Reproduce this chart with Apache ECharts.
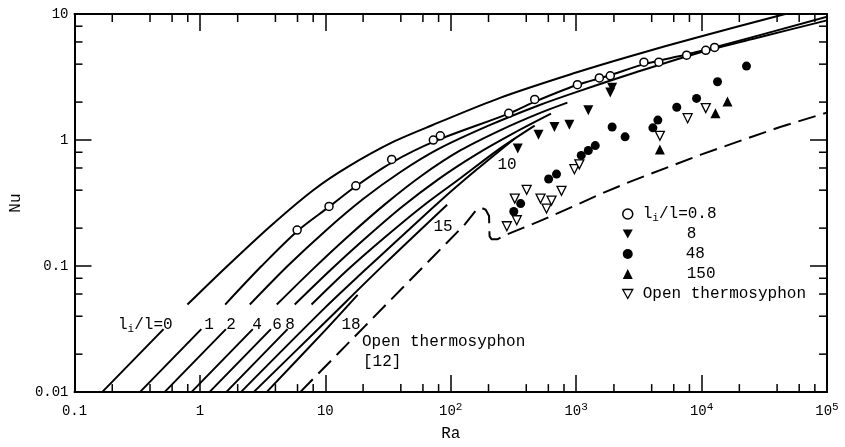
<!DOCTYPE html>
<html>
<head>
<meta charset="utf-8">
<script src="https://cdn.jsdelivr.net/npm/echarts@6/dist/echarts.min.js"></script>
<style>
  html, body { margin: 0; padding: 0; background: #fff; }
  #chart { width: 845px; height: 447px; }
</style>
</head>
<body>
<div id="chart"></div>
<script>
// ---- Axis ranges and tick labels ----
const raRange = [0.1, 1e5];
const nuRange = [0.01, 10];
const raTickLabels = ['0.1', '1', '10', '10{sup|2}', '10{sup|3}', '10{sup|4}', '10{sup|5}'];
const nuTickLabels = ['0.01', '0.1', '1', '10'];
const minorMultipliers = [2, 4, 6, 8];

// ---- Theoretical curves [Ra, Nu] for each l_i/l; null leaves the break where the label sits ----
const curve0 = [[0.166, 0.01], [0.513, 0.0316], null, [0.795, 0.0495], [1.6, 0.097], [3.7, 0.21], [8, 0.40],
  [15, 0.61], [35, 0.97], [71, 1.31], [250, 2.17], [1000, 3.43], [2700, 4.62], [10000, 6.67], [46500, 10]];
const curve1 = [[0.332, 0.01], [1.026, 0.0316], null, [1.59, 0.0495], [3.1, 0.1], [6, 0.19], [10.7, 0.295],
  [17.5, 0.43], [33.6, 0.66], [75, 0.98], [290, 1.62], [460, 2.0], [1000, 2.72], [1830, 3.25], [3500, 4.0],
  [7400, 4.75], [12400, 5.4], [100000, 9.5]];
const curve2 = [[0.522, 0.01], [1.613, 0.0316], null, [2.5, 0.0495], [5, 0.1], [10, 0.19], [20, 0.34],
  [40, 0.56], [80, 0.85], [200, 1.3], [500, 1.88], [1000, 2.4], [3000, 3.45], [10000, 5.0], [30000, 6.6],
  [100000, 8.9]];
const curve4 = [[0.855, 0.01], [2.64, 0.0316], null, [4.1, 0.0495], [8, 0.095], [15, 0.17], [30, 0.31],
  [60, 0.53], [120, 0.83], [250, 1.2], [500, 1.62], [851, 1.98]];
const curve6 = [[1.19, 0.01], [3.68, 0.0316], null, [5.7, 0.0495], [11, 0.093], [20, 0.16], [40, 0.29],
  [80, 0.49], [160, 0.77], [320, 1.14], [630, 1.62]];
const curve8 = [[1.62, 0.01], [5.0, 0.0316], null, [7.76, 0.0495], [15, 0.093], [30, 0.17], [60, 0.30],
  [120, 0.50], [240, 0.84], [467, 1.30]];
const curve10 = [[2.12, 0.01], [10, 0.047], [20, 0.09], [40, 0.17], [80, 0.32], [160, 0.58], [324, 1.03]];
const curve15 = [[2.68, 0.01], [10, 0.036], [30, 0.105], [93.6, 0.307]];
const curve18 = [[3.40, 0.01], [10, 0.031], [18.1, 0.059]];
// Open thermosyphon, ref. [12]
const openThermosyphon12 = [[6.3, 0.01], [130, 0.215], [158, 0.275], [175, 0.29], [190, 0.28], [202, 0.25],
  [203, 0.2], [204, 0.172], [212, 0.163], [235, 0.163], [280, 0.178], [500, 0.225], [968, 0.3],
  [1585, 0.375], [2735, 0.47], [10000, 0.77], [42300, 1.27], [100000, 1.65]];

// ---- Measurements [Ra, Nu] ----
const pointsLi08 = [[5.96, 0.193], [10.7, 0.297], [17.5, 0.433], [33.8, 0.702], [72.6, 1.0], [82.5, 1.08],
  [290, 1.63], [467, 2.10], [1023, 2.75], [1530, 3.11], [1870, 3.23], [3470, 4.15], [4560, 4.15],
  [7600, 4.71], [10800, 5.15], [12700, 5.43]];
const pointsLi8 = [[342, 0.855], [501, 1.10], [671, 1.27], [883, 1.32], [1250, 1.72], [1870, 2.38], [1935, 2.60]];
const pointsLi48 = [[318, 0.271], [361, 0.313], [603, 0.491], [697, 0.537], [1098, 0.755], [1250, 0.826],
  [1420, 0.904], [1935, 1.27], [2455, 1.06], [4090, 1.25], [4480, 1.44], [6340, 1.82], [9120, 2.14],
  [13400, 2.90], [22800, 3.86]];
const pointsLi150 = [[4650, 0.84], [12900, 1.63], [16100, 2.02]];
const pointsOpen = [[280, 0.207], [336, 0.231], [324, 0.343], [403, 0.403], [520, 0.343], [580, 0.286],
  [636, 0.331], [764, 0.395], [968, 0.587], [1060, 0.641], [4650, 1.08], [7740, 1.49], [10800, 1.79]];

// ---- Styling ----
const FONT = '"Liberation Mono", "DejaVu Sans Mono", monospace';
const INK = '#000';
const subRich = { sub: { fontSize: 11, lineHeight: 10, verticalAlign: 'bottom', fontFamily: FONT, fill: INK, color: INK } };
const DOWN_TRI = 'path://M0,0L10,0L5,9Z';

const chart = echarts.init(document.getElementById('chart'), null, { renderer: 'canvas' });

const xMinor = [];
for (let e = -1; e < 5; e++) for (const m of minorMultipliers) xMinor.push([m * Math.pow(10, e), 1]);
const yMinor = [];
for (let e = -2; e < 1; e++) for (const m of minorMultipliers) yMinor.push([1, m * Math.pow(10, e)]);

const solidCurves = [curve0, curve1, curve2, curve4, curve6, curve8, curve10, curve15, curve18];

function lineSeries(data, extra) {
  return Object.assign({
    type: 'line', data: data, showSymbol: false, smooth: 0.3, silent: true, connectNulls: false,
    lineStyle: { color: INK, width: 2 }, z: 2
  }, extra || {});
}

const axisCommonX = {
  type: 'log', logBase: 10, min: raRange[0], max: raRange[1],
  axisLine: { show: true, lineStyle: { color: INK, width: 2 } },
  axisTick: { show: true, inside: true, length: 17, lineStyle: { color: INK, width: 1.5 } },
  splitLine: { show: false }, minorTick: { show: false }
};
const axisCommonY = {
  type: 'log', logBase: 10, min: nuRange[0], max: nuRange[1],
  axisLine: { show: true, lineStyle: { color: INK, width: 2 } },
  axisTick: { show: true, inside: true, length: 17, lineStyle: { color: INK, width: 1.5 } },
  splitLine: { show: false }, minorTick: { show: false }
};

const tickLen = 8;
function minorTickSeries(data, horizontal) {
  return {
    type: 'custom', data: data, silent: true, z: 3, clip: false,
    renderItem: function (params, api) {
      const style = { stroke: INK, lineWidth: 1.5 };
      if (horizontal) {
        const v = api.value(0);
        const b = api.coord([v, nuRange[0]]);
        const t = api.coord([v, nuRange[1]]);
        return { type: 'group', children: [
          { type: 'line', shape: { x1: b[0], y1: b[1], x2: b[0], y2: b[1] - tickLen }, style: style },
          { type: 'line', shape: { x1: t[0], y1: t[1], x2: t[0], y2: t[1] + tickLen }, style: style }
        ] };
      }
      const v = api.value(1);
      const l = api.coord([raRange[0], v]);
      const r = api.coord([raRange[1], v]);
      return { type: 'group', children: [
        { type: 'line', shape: { x1: l[0], y1: l[1], x2: l[0] + tickLen, y2: l[1] }, style: style },
        { type: 'line', shape: { x1: r[0], y1: r[1], x2: r[0] - tickLen, y2: r[1] }, style: style }
      ] };
    }
  };
}

const legendText = {
  'l_i/l = 0.8': 'l{sub|i}/l=0.8',
  '8': '{p1| }8',
  '48': '{p2| }48',
  '150': '{p3| }150',
  'Open thermosyphon': 'Open thermosyphon'
};

function label(text, x, y, align) {
  return {
    type: 'text', x: x, y: y, silent: true, z: 10,
    style: {
      text: text, fontSize: 16, fontFamily: FONT, fill: INK, lineHeight: 20,
      align: align || 'center', verticalAlign: 'middle', rich: subRich
    }
  };
}

const openStyle = { color: '#fff', borderColor: INK, borderWidth: 1.5, opacity: 1 };
const solidStyle = { color: INK, opacity: 1 };

const option = {
  animation: false,
  backgroundColor: '#fff',
  grid: { left: 70, right: 18, top: 14, bottom: 48, containLabel: false },
  xAxis: [
    Object.assign({}, axisCommonX, {
      position: 'bottom',
      name: 'Ra', nameLocation: 'middle', nameGap: 31,
      nameTextStyle: { fontSize: 16, fontFamily: FONT, color: INK },
      axisLabel: {
        show: true, margin: 9, color: INK, fontSize: 14, fontFamily: FONT, lineHeight: 20,
        showMinLabel: true, showMaxLabel: true,
        formatter: function (v) { return raTickLabels[Math.round(Math.log10(v)) + 1]; },
        rich: { sup: { fontSize: 11, lineHeight: 10, verticalAlign: 'top', fontFamily: FONT, color: INK } }
      }
    }),
    Object.assign({}, axisCommonX, { position: 'top', axisLabel: { show: false } })
  ],
  yAxis: [
    Object.assign({}, axisCommonY, {
      position: 'left',
      name: 'Nu', nameLocation: 'middle', nameGap: 47, nameRotate: 90,
      nameTextStyle: { fontSize: 16, fontFamily: FONT, color: INK },
      axisLabel: {
        show: true, margin: 6, color: INK, fontSize: 14, fontFamily: FONT,
        showMinLabel: true, showMaxLabel: true,
        formatter: function (v) { return nuTickLabels[Math.round(Math.log10(v)) + 2]; }
      }
    }),
    Object.assign({}, axisCommonY, { position: 'right', axisLabel: { show: false } })
  ],
  legend: {
    orient: 'vertical', left: 617, top: 199, itemWidth: 10, itemHeight: 10, itemGap: 0,
    selectedMode: false,
    data: [
      { name: 'l_i/l = 0.8', icon: 'circle', itemStyle: openStyle },
      { name: '8', icon: DOWN_TRI, itemStyle: solidStyle },
      { name: '48', icon: 'circle', itemStyle: solidStyle },
      { name: '150', icon: 'triangle', itemStyle: solidStyle },
      { name: 'Open thermosyphon', icon: DOWN_TRI, itemStyle: { color: '#fff', borderColor: INK, borderWidth: 1.3, opacity: 1 } }
    ],
    formatter: function (name) { return legendText[name]; },
    textStyle: {
      fontSize: 16, fontFamily: FONT, color: INK, lineHeight: 20, padding: [0, 0, 0, 5],
      rich: {
        sub: { fontSize: 11, lineHeight: 10, verticalAlign: 'bottom', fontFamily: FONT, color: INK },
        p1: { width: 44 }, p2: { width: 43 }, p3: { width: 44 }
      }
    }
  },
  series: solidCurves.map(function (d) { return lineSeries(d); }).concat([
    lineSeries(openThermosyphon12, { name: 'Open thermosyphon [12]', smooth: false,
      lineStyle: { color: INK, width: 2, type: [18, 8] } }),
    { type: 'scatter', name: 'l_i/l = 0.8', data: pointsLi08, symbol: 'circle', symbolSize: 8, z: 5,
      itemStyle: openStyle },
    { type: 'scatter', name: '8', data: pointsLi8, symbol: 'triangle', symbolRotate: 180, symbolSize: 10, z: 5,
      itemStyle: solidStyle },
    { type: 'scatter', name: '48', data: pointsLi48, symbol: 'circle', symbolSize: 9, z: 5,
      itemStyle: solidStyle },
    { type: 'scatter', name: '150', data: pointsLi150, symbol: 'triangle', symbolSize: 10, z: 5,
      itemStyle: solidStyle },
    { type: 'scatter', name: 'Open thermosyphon', data: pointsOpen, symbol: 'triangle', symbolRotate: 180,
      symbolSize: 9, z: 5, itemStyle: { color: '#fff', borderColor: INK, borderWidth: 1.3, opacity: 1 } },
    minorTickSeries(xMinor, true),
    minorTickSeries(yMinor, false)
  ]),
  graphic: [
    label('l{sub|i}/l=0', 118, 325, 'left'),
    label('1', 209, 325), label('2', 231, 325), label('4', 257, 325),
    label('6', 277, 325), label('8', 290, 325),
    label('10', 507, 165), label('15', 443, 227), label('18', 351, 325),
    label('Open thermosyphon', 362, 342, 'left'),
    label('[12]', 363, 362, 'left')
  ]
};

chart.setOption(option);
</script>
</body>
</html>
